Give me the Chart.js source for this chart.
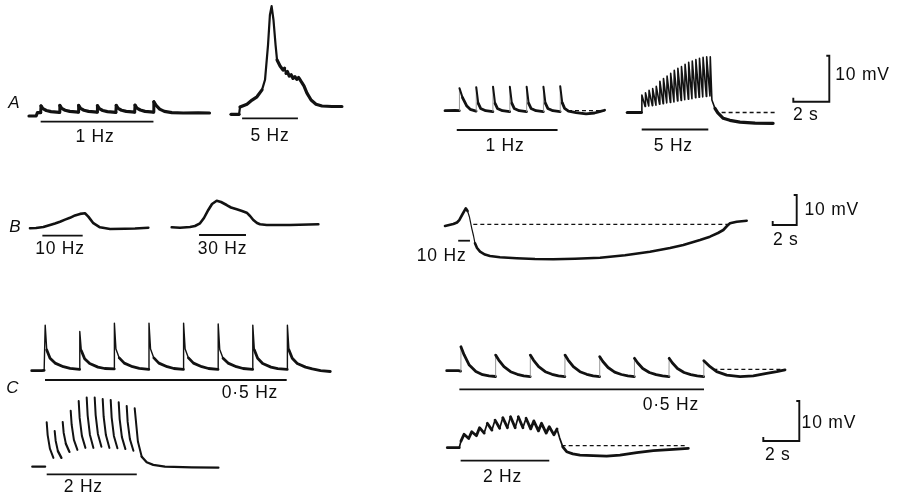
<!DOCTYPE html>
<html>
<head>
<meta charset="utf-8">
<script src="https://cdn.jsdelivr.net/npm/chart.js@4.4.0/dist/chart.umd.min.js"></script>
<style>
  html, body { margin: 0; padding: 0; background: #fff; }
  #wrap { position: relative; width: 899px; height: 498px; overflow: hidden; background: #fff; }
  #fig { position: absolute; left: 0; top: 0; }
  .lbl { position: absolute; transform: translate(-50%, -50%); font-family: "Liberation Sans", Arial, sans-serif;
         font-size: 17.5px; line-height: 1; color: #0d0d0d; white-space: nowrap; letter-spacing: 0.8px; }
  .row { font-style: italic; font-size: 17px; letter-spacing: 0; }
</style>
</head>
<body>
<div id="wrap"><canvas id="fig" width="899" height="498"></canvas></div>
<script>
// ---- Recorded membrane potential traces: [time (s), potential (mV) relative to rest] ----
const aL1Trace = [[0,0],[0.38,0],[0.45,0.75],[0.62,0.75],
  [0.64,2.2],[0.74,1.6],[0.92,1.2],[1.17,0.95],[1.62,0.8],
  [1.64,2.3],[1.74,1.65],[1.92,1.25],[2.17,1.0],[2.62,0.85],
  [2.64,2.3],[2.74,1.65],[2.92,1.25],[3.17,1.0],[3.62,0.85],
  [3.64,2.25],[3.74,1.6],[3.92,1.2],[4.17,0.95],[4.62,0.8],
  [4.64,2.3],[4.74,1.65],[4.92,1.25],[5.17,1.0],[5.62,0.85],
  [5.64,2.35],[5.74,1.7],[5.92,1.3],[6.17,1.0],[6.62,0.85],
  [6.64,3.1],[6.76,2.3],[6.95,1.5],[7.2,1.0],[7.6,0.75],[8.2,0.65],[9.0,0.7],[9.6,0.65]];

const aL5Trace = [[0,0],[0.43,0],[0.48,1.6],[0.85,2.2],[1.12,3.1],[1.38,3.8],[1.65,5.3],[1.81,7.5],
  [1.97,15.1],[2.07,21.6],[2.16,23.5],[2.26,20.5],[2.37,15.1],[2.45,11.8],[2.61,10.5],[2.77,9.6],
  [2.85,10.0],[2.93,8.9],[3.0,9.3],[3.1,8.3],[3.2,8.6],[3.3,7.8],[3.4,8.2],[3.5,7.6],[3.6,8.0],[3.72,7.2],
  [3.88,6.2],[4.04,4.6],[4.26,3.1],[4.52,2.2],[4.84,1.8],[5.37,1.7],[5.9,1.7]];

const aR1Trace = [[0,0],[0.6,0.05],[0.85,0],
  [0.86,4.9],[1.05,2.8],[1.3,1.0],[1.5,0.3],[1.85,-0.1],
  [1.86,5.1],[1.98,1.6],[2.12,0.5],[2.42,0],[2.85,-0.2],
  [2.86,5.2],[2.98,1.6],[3.12,0.5],[3.42,0],[3.85,-0.2],
  [3.86,5.2],[3.98,1.6],[4.12,0.5],[4.42,0],[4.85,-0.2],
  [4.86,5.2],[4.98,1.6],[5.12,0.5],[5.42,0],[5.85,-0.2],
  [5.86,5.2],[5.98,1.6],[6.12,0.5],[6.42,0],[6.85,-0.2],
  [6.86,5.3],[6.98,1.7],[7.12,0.5],[7.35,-0.1],[7.8,-0.4],[8.4,-0.7],[8.9,-0.5],[9.2,-0.2],[9.5,0.1]];

const aR5Trace = [[0,0],[0.78,0],
  [0.81,3.8],[0.99,1.3],[1.01,4.3],[1.19,1.4],[1.21,4.8],[1.39,1.5],[1.41,5.2],[1.59,1.6],
  [1.61,5.7],[1.79,1.8],[1.81,6.8],[1.99,1.9],[2.01,7.4],[2.19,2.1],[2.21,7.9],[2.39,2.2],
  [2.41,8.5],[2.59,2.3],[2.61,9.2],[2.79,2.5],[2.81,9.6],[2.99,2.6],[3.01,10.0],[3.19,2.8],
  [3.21,10.5],[3.39,2.9],[3.41,10.9],[3.59,3.0],[3.61,11.2],[3.79,3.2],[3.81,11.5],[3.99,3.3],
  [4.01,11.8],[4.19,3.4],[4.21,12.0],[4.39,3.5],[4.41,12.1],[4.59,3.6],
  [4.61,12.1],[4.7,2.7],[4.87,0.9],[5.03,-0.1],[5.33,-1.26],[5.7,-1.7],[6.26,-2.1],[7.1,-2.3],[8.1,-2.35]];

const bL10Trace = [[0,0],[0.5,0.1],[1.11,0.43],[1.67,1.1],[2.08,1.6],[2.5,2.2],[2.92,2.9],[3.33,3.5],
  [3.75,4.3],[4.17,4.8],[4.58,5.0],[4.86,3.9],[5.28,1.7],[5.83,0.33],[6.67,-0.23],[7.92,-0.13],[8.75,-0.07],[9.86,0.2]];

const bL30Trace = [[0,0],[0.69,-0.17],[1.53,0.1],[1.94,0.43],[2.36,1.33],[2.69,3.1],[3.05,5.77],[3.36,7.77],
  [3.75,8.87],[4.11,8.43],[4.58,7.43],[4.94,6.6],[5.42,6.0],[5.86,5.43],[6.25,4.87],[6.53,3.77],[6.8,2.43],
  [7.11,1.43],[7.36,1.0],[7.92,0.77],[9.86,0.77],[12.22,1.0]];

const bR10Trace = [[0,-0.57],[0.69,0.1],[1.0,0.6],[1.19,1.43],[1.42,3.1],[1.73,5.33],[1.88,4.43],[2.03,2.53],
  [2.23,-1.33],[2.38,-3.9],[2.5,-6.33],[2.67,-7.9],[2.92,-9.13],[3.33,-10.07],[3.75,-10.57],[4.58,-11.0],
  [5.97,-11.33],[7.5,-11.57],[9.03,-11.67],[10.83,-11.47],[12.92,-11.13],[15.0,-10.33],[17.08,-9.13],
  [18.75,-7.9],[19.86,-6.9],[21.25,-5.23],[22.08,-4.13],[22.75,-2.9],[23.19,-1.9],[23.5,-0.57],
  [23.75,0.33],[24.31,0.87],[25.14,1.2]];

const cL05Trace = [[0,0],[0.58,0],[0.72,0.1],
  [0.78,11.4],[0.87,5.2],[1.06,3.1],[1.35,1.9],[1.83,1.0],[2.22,0.6],[2.77,0.35],
  [2.78,9.8],[2.87,5.0],[3.06,3.0],[3.35,1.8],[3.83,0.9],[4.22,0.55],[4.77,0.45],
  [4.78,11.9],[4.87,5.4],[5.06,3.2],[5.35,1.9],[5.83,1.0],[6.22,0.6],[6.77,0.35],
  [6.78,11.9],[6.87,5.4],[7.06,3.2],[7.35,1.9],[7.83,1.0],[8.22,0.55],[8.77,0.35],
  [8.78,11.9],[8.87,5.4],[9.06,3.2],[9.35,1.9],[9.83,1.0],[10.22,0.55],[10.77,0.35],
  [10.78,11.7],[10.87,5.3],[11.06,3.1],[11.35,1.9],[11.83,1.0],[12.22,0.55],[12.77,0.35],
  [12.78,11.4],[12.87,5.2],[13.06,3.1],[13.35,1.8],[13.83,0.9],[14.22,0.5],[14.77,0.35],
  [14.78,11.4],[14.87,5.2],[15.06,3.1],[15.35,1.8],[15.83,0.9],[16.22,0.45],[16.7,0.0],[17.26,-0.2]];

const cL2Trace = [[0,0],[0.8,0],
  [0.9,11.1],[0.96,7.9],[1.1,4.5],[1.32,2.2],
  [1.4,8.9],[1.46,6.5],[1.6,3.9],[1.82,2.2],
  [1.9,11.2],[1.96,8.5],[2.1,5.7],[2.32,3.7],
  [2.4,14.0],[2.46,10.5],[2.6,6.7],[2.82,4.2],
  [2.9,16.4],[2.96,12.2],[3.1,7.7],[3.32,4.7],
  [3.4,17.3],[3.46,12.8],[3.6,8.0],[3.82,4.7],
  [3.9,17.3],[3.96,12.9],[4.1,8.2],[4.32,5.0],
  [4.4,16.9],[4.46,12.5],[4.6,7.9],[4.82,4.7],
  [4.9,16.7],[4.96,12.3],[5.1,7.7],[5.32,4.6],
  [5.4,16.1],[5.46,11.9],[5.6,7.4],[5.82,4.4],
  [5.9,15.2],[5.96,11.2],[6.1,6.9],[6.32,4.0],
  [6.4,14.6],[6.6,6.3],[6.84,2.5],[7.15,1.1],[7.56,0.45],[8.29,0],[9.96,-0.15],[11.63,-0.25]];

const cR05Trace = [[0,0],[0.67,0],[0.8,-0.1],
  [0.82,6.0],[1.0,4.0],[1.3,1.4],[1.68,-0.2],[2.07,-1.0],[2.44,-1.3],[2.81,-1.45],
  [2.82,3.9],[3.0,2.65],[3.3,1.0],[3.68,-0.25],[4.07,-0.9],[4.44,-1.3],[4.81,-1.5],
  [4.82,3.9],[5.0,2.65],[5.3,1.0],[5.68,-0.25],[6.07,-0.9],[6.44,-1.3],[6.81,-1.5],
  [6.82,3.9],[7.0,2.65],[7.3,1.0],[7.68,-0.25],[8.07,-0.9],[8.44,-1.3],[8.81,-1.5],
  [8.82,3.5],[9.0,2.3],[9.3,0.8],[9.68,-0.35],[10.07,-0.95],[10.44,-1.3],[10.81,-1.5],
  [10.82,3.1],[11.0,2.0],[11.3,0.55],[11.68,-0.45],[12.07,-1.0],[12.44,-1.3],[12.81,-1.5],
  [12.82,3.1],[13.0,2.0],[13.3,0.55],[13.68,-0.45],[14.07,-1.0],[14.44,-1.3],[14.81,-1.5],
  [14.82,2.5],[15.18,1.0],[15.56,-0.25],[16.14,-1.1],[16.91,-1.5],[17.67,-1.3],[18.44,-0.65],[19.02,-0.25],[19.5,0.2]];

const cR2Trace = [[0,0],[0.77,0],[0.88,1.65],
  [1.08,3.35],[1.38,2.3],[1.58,4.0],[1.88,3.0],[2.08,5.0],[2.38,3.65],[2.58,6.1],[2.88,4.4],
  [3.08,6.9],[3.38,4.85],[3.58,7.5],[3.88,5.0],[4.08,7.75],[4.38,5.0],[4.58,7.75],[4.88,5.0],
  [5.08,7.35],[5.38,4.7],[5.58,6.7],[5.88,4.2],[6.08,6.1],[6.38,3.65],[6.58,5.25],[6.88,3.2],
  [7.08,4.7],[7.25,2.4],[7.45,0.2],[7.7,-1.0],[8.1,-1.55],[8.56,-1.85],[9.4,-2.0],[10.28,-2.1],
  [11.14,-1.85],[12.22,-1.25],[13.29,-0.75],[14.58,-0.4],[15.55,-0.15]];

// ---- Stimulus trains: [start (s), end (s)] ----
const aL1Stim = [0.62, 6.62];
const aL5Stim = [0.59, 3.56];
const aR1Stim = [0.7, 6.7];
const aR5Stim = [0.8, 4.5];
const bL10Stim = [1.03, 4.39];
const bL30Stim = [2.28, 6.19];
const bR10Stim = [1.1, 2.08];
const cL05Stim = [0.77, 14.74];
const cL2Stim = [0.9, 6.53];
const cR05Stim = [0.73, 14.83];
const cR2Stim = [0.86, 6.58];

// ---- Pre-stimulus resting level (dashed): [from (s), to (s), level (mV)] ----
const aR1Rest = [7.32, 9.5, 0];
const aR5Rest = [5.24, 8.2, 0];
const bR10Rest = [2.36, 23.6, 0];
const cR05Rest = [15.37, 19.31, 0.35];
const cR2Rest = [7.38, 15.45, 0.5];

// ---- Calibration ----
const scaleBarSeconds = 2;
const scaleBarMillivolts = 10;

// ---- Layout: where each record sits on the page (pixel origin, px per s, px per mV) ----
const W = 899, H = 498;
const panels = {
  aL1:  { ox: 29,    oy: 116,   pxs: 18.8,  pxmv: 4.6, stimAt: -1.24 },
  aL5:  { ox: 231,   oy: 114.3, pxs: 18.8,  pxmv: 4.6, stimAt: -0.87 },
  aR1:  { ox: 445,   oy: 110.7, pxs: 16.8,  pxmv: 4.6, stimAt: -4.2 },
  aR5:  { ox: 627.3, oy: 112.5, pxs: 18,    pxmv: 4.6, stimAt: -3.7 },
  barA: { ox: 829.3, oy: 101.7, pxs: 18,    pxmv: 4.6 },
  bL10: { ox: 30,    oy: 228.3, pxs: 12,    pxmv: 3,   stimAt: -2.47 },
  bL30: { ox: 171.7, oy: 227.3, pxs: 12,    pxmv: 3,   stimAt: -2.57 },
  bR10: { ox: 445,   oy: 224.3, pxs: 12,    pxmv: 3,   stimAt: -5.47 },
  barB: { ox: 796.7, oy: 225,   pxs: 12,    pxmv: 3 },
  cL05: { ox: 31.7,  oy: 370.7, pxs: 17.3,  pxmv: 4,   stimAt: -2.33 },
  cL2:  { ox: 32.3,  oy: 466.7, pxs: 16,    pxmv: 4,   stimAt: -1.9 },
  cR05: { ox: 446.7, oy: 370.7, pxs: 17.35, pxmv: 4,   stimAt: -4.65 },
  cR2:  { ox: 447.3, oy: 447.7, pxs: 15.5,  pxmv: 4,   stimAt: -3.25 },
  barC: { ox: 799.3, oy: 441,   pxs: 18,    pxmv: 4 }
};

// Trace drawing styles. Fast pen movements leave a thinner (or no) line on the record.
const traces = [
  { id: 'aL1',  values: aL1Trace,  width: 3.2, steep: 3,   rise: 'solid' },
  { id: 'aL5',  values: aL5Trace,  width: 3.2, steep: 2.2, rise: 'solid' },
  { id: 'aR1',  values: aR1Trace,  width: 2.8, steep: 2.0, rise: 'faint' },
  { id: 'aR5',  values: aR5Trace,  width: 3.2, steep: 1.6, rise: 'solid' },
  { id: 'bL10', values: bL10Trace, width: 2.6, steep: 2.4, rise: 'solid' },
  { id: 'bL30', values: bL30Trace, width: 2.6, steep: 2.4, rise: 'solid' },
  { id: 'bR10', values: bR10Trace, width: 2.6, steep: 1.2, rise: 'solid' },
  { id: 'cL05', values: cL05Trace, width: 2.8, steep: 1.4, rise: 'solid' },
  { id: 'cL2',  values: cL2Trace,  width: 2.3, steep: 2.0, rise: 'hidden' },
  { id: 'cR05', values: cR05Trace, width: 2.8, steep: 1.4, rise: 'faint' },
  { id: 'cR2',  values: cR2Trace,  width: 2.8, steep: 1.7, rise: 'solid' }
];
const stims = { aL1: aL1Stim, aL5: aL5Stim, aR1: aR1Stim, aR5: aR5Stim, bL10: bL10Stim, bL30: bL30Stim,
                bR10: bR10Stim, cL05: cL05Stim, cL2: cL2Stim, cR05: cR05Stim, cR2: cR2Stim };
const rests = { aR1: aR1Rest, aR5: aR5Rest, bR10: bR10Rest, cR05: cR05Rest, cR2: cR2Rest };

const ink = '#121212';

// One hidden x/y scale pair per record, so that every record keeps its own time and voltage units.
const scales = {
  x: { type: 'linear', display: false, min: 0, max: 1 },
  y: { type: 'linear', display: false, min: 0, max: 1 }
};
for (const [id, p] of Object.entries(panels)) {
  scales['x_' + id] = { type: 'linear', axis: 'x', display: false,
                        min: -p.ox / p.pxs, max: (W - p.ox) / p.pxs };
  scales['y_' + id] = { type: 'linear', axis: 'y', display: false,
                        min: -(H - p.oy) / p.pxmv, max: p.oy / p.pxmv };
}

const toPts = arr => arr.map(([x, y]) => ({ x, y }));
const onAxes = id => ({ xAxisID: 'x_' + id, yAxisID: 'y_' + id });
const base = { showLine: true, pointRadius: 0, pointHoverRadius: 0, pointHitRadius: 0,
               tension: 0, fill: false, borderColor: ink };

// Direction of a steep segment in screen space: 1 = upward, -1 = downward, 0 = not steep
function steepness(ctx) {
  const dx = Math.abs(ctx.p1.x - ctx.p0.x);
  const dy = ctx.p1.y - ctx.p0.y;
  if (Math.abs(dy) < 4 || Math.abs(dy) < 2.6 * dx) return 0;
  return dy < 0 ? 1 : -1;
}

const datasets = [];
for (const tr of traces) {
  datasets.push(Object.assign({}, base, onAxes(tr.id), {
    data: toPts(tr.values),
    borderWidth: tr.width,
    borderJoinStyle: 'round',
    borderCapStyle: 'round',
    segment: {
      borderWidth: ctx => {
        const s = steepness(ctx);
        if (!s) return undefined;
        if (s === 1 && tr.rise === 'faint') return 0.9;
        return tr.steep;
      },
      borderColor: ctx => {
        const s = steepness(ctx);
        if (s === 1 && tr.rise === 'hidden') return 'rgba(0,0,0,0)';
        if (s === 1 && tr.rise === 'faint') return '#8c8c8c';
        return undefined;
      }
    }
  }));
}

// Stimulus bars
for (const [id, s] of Object.entries(stims)) {
  const lvl = panels[id].stimAt;
  datasets.push(Object.assign({}, base, onAxes(id), {
    data: [{ x: s[0], y: lvl }, { x: s[1], y: lvl }],
    borderWidth: 1.8, borderCapStyle: 'butt'
  }));
}

// Resting level, dashed
for (const [id, r] of Object.entries(rests)) {
  datasets.push(Object.assign({}, base, onAxes(id), {
    data: [{ x: r[0], y: r[2] }, { x: r[1], y: r[2] }],
    borderWidth: 1.3, borderDash: [4, 3], borderCapStyle: 'butt'
  }));
}

// Calibration bars (10 mV vertical, 2 s horizontal) with small end hooks
for (const id of ['barA', 'barB', 'barC']) {
  const p = panels[id];
  const hookX = 3 / p.pxs, hookY = 4 / p.pxmv;
  datasets.push(Object.assign({}, base, onAxes(id), {
    data: [
      { x: -hookX, y: scaleBarMillivolts },
      { x: 0, y: scaleBarMillivolts },
      { x: 0, y: 0 },
      { x: -scaleBarSeconds, y: 0 },
      { x: -scaleBarSeconds, y: hookY }
    ],
    borderWidth: 1.9, borderJoinStyle: 'miter', borderCapStyle: 'butt'
  }));
}

new Chart(document.getElementById('fig'), {
  type: 'scatter',
  data: { datasets },
  options: {
    responsive: false,
    animation: false,
    events: [],
    layout: { padding: 0 },
    scales,
    plugins: { legend: { display: false }, tooltip: { enabled: false }, title: { display: false } }
  }
});

// ---- Text ----
const texts = [
  { t: 'A', x: 14, y: 101.7, row: true },
  { t: '1 Hz', x: 95, y: 136.7 },
  { t: '5 Hz', x: 270, y: 136 },
  { t: '1 Hz', x: 505, y: 145.8 },
  { t: '5 Hz', x: 673.3, y: 146 },
  { t: '10 mV', x: 862.5, y: 75 },
  { t: '2 s', x: 805.8, y: 115 },
  { t: 'B', x: 15, y: 226, row: true },
  { t: '10 Hz', x: 60, y: 248.5 },
  { t: '30 Hz', x: 222.5, y: 248.5 },
  { t: '10 Hz', x: 441.7, y: 256.3 },
  { t: '10 mV', x: 831.7, y: 210 },
  { t: '2 s', x: 785.8, y: 240 },
  { t: 'C', x: 12.5, y: 386.7, row: true },
  { t: '0·5 Hz', x: 250, y: 392.5 },
  { t: '2 Hz', x: 83.3, y: 486.7 },
  { t: '0·5 Hz', x: 670.8, y: 404.5 },
  { t: '2 Hz', x: 502.5, y: 476.7 },
  { t: '10 mV', x: 828.9, y: 423.3 },
  { t: '2 s', x: 777.8, y: 454.7 }
];
const wrap = document.getElementById('wrap');
for (const d of texts) {
  const el = document.createElement('div');
  el.className = 'lbl' + (d.row ? ' row' : '');
  el.textContent = d.t;
  el.style.left = d.x + 'px';
  el.style.top = d.y + 'px';
  wrap.appendChild(el);
}
</script>
</body>
</html>
